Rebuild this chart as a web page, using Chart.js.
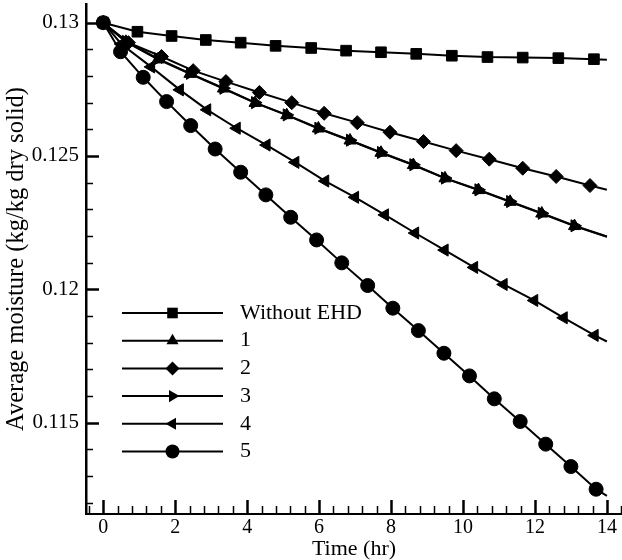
<!DOCTYPE html>
<html>
<head>
<meta charset="utf-8">
<script src="https://cdn.jsdelivr.net/npm/chart.js@4.4.0/dist/chart.umd.min.js"></script>
<style>
  html, body { margin: 0; padding: 0; background: #fff; }
</style>
</head>
<body>
<canvas id="chart" width="622" height="560"></canvas>
<script>
const FONT = "'Liberation Serif', 'Times New Roman', serif";

const seriesLabels = ['Without EHD', '1', '2', '3', '4', '5'];
const xTicks = [0, 2, 4, 6, 8, 10, 12, 14];
const yTicks = [0.115, 0.12, 0.125, 0.13];
const xMinorStep = 0.4;
const yMinorStep = 0.001;

// time (hr) / average moisture (kg/kg dry solid) for each run
const timeNoEhd = [0, 0.95, 1.90, 2.85, 3.82, 4.79, 5.78, 6.75, 7.72, 8.70, 9.69, 10.68, 11.66, 12.65, 13.64, 14];
const moistNoEhd = [0.13, 0.12966, 0.12950, 0.12935, 0.12925, 0.12913, 0.12905, 0.12895, 0.12889, 0.12883, 0.12876, 0.12871, 0.12869, 0.12867, 0.12863, 0.12861];

const time1 = [0, 0.63, 1.52, 2.41, 3.34, 4.22, 5.10, 5.98, 6.86, 7.72, 8.62, 9.50, 10.43, 11.31, 12.19, 13.10, 14];
const moist1 = [0.13, 0.12928, 0.12862, 0.12808, 0.12753, 0.12699, 0.12653, 0.12603, 0.12558, 0.12512, 0.12466, 0.12416, 0.12372, 0.12328, 0.12284, 0.12237, 0.12197];

const time2 = [0, 0.70, 1.62, 2.50, 3.41, 4.34, 5.24, 6.14, 7.06, 7.97, 8.90, 9.81, 10.73, 11.66, 12.59, 13.53, 14];
const moist2 = [0.13, 0.12925, 0.12873, 0.12820, 0.12779, 0.12738, 0.12700, 0.12660, 0.12625, 0.12589, 0.12554, 0.12520, 0.12488, 0.12454, 0.12423, 0.12389, 0.12373];

const time3 = [0, 0.63, 1.52, 2.41, 3.34, 4.22, 5.10, 5.98, 6.86, 7.72, 8.62, 9.50, 10.43, 11.31, 12.19, 13.10, 14];
const moist3 = [0.13, 0.12930, 0.12865, 0.12810, 0.12754, 0.12700, 0.12654, 0.12604, 0.12559, 0.12513, 0.12467, 0.12417, 0.12373, 0.12329, 0.12285, 0.12238, 0.12198];

const time4 = [0, 0.50, 1.33, 2.13, 2.89, 3.71, 4.54, 5.34, 6.17, 7.00, 7.83, 8.67, 9.49, 10.31, 11.13, 11.98, 12.80, 13.66, 14];
const moist4 = [0.13, 0.12920, 0.12834, 0.12748, 0.12673, 0.12604, 0.12541, 0.12476, 0.12406, 0.12345, 0.12279, 0.12211, 0.12147, 0.12082, 0.12018, 0.11958, 0.11893, 0.11827, 0.11804];

const time5 = [0, 0.48, 1.11, 1.76, 2.43, 3.11, 3.82, 4.52, 5.21, 5.93, 6.63, 7.35, 8.05, 8.76, 9.47, 10.18, 10.87, 11.59, 12.30, 13.00, 13.70, 14];
const moist5 = [0.13, 0.12891, 0.12795, 0.12704, 0.12614, 0.12526, 0.12439, 0.12354, 0.12270, 0.12185, 0.12099, 0.12014, 0.11929, 0.11845, 0.11760, 0.11675, 0.11589, 0.11504, 0.11419, 0.11335, 0.11250, 0.11225];

// one black line with symbols; the last sample (end of run) carries no symbol
function curve(label, time, moist, style, rotation, radius) {
  return {
    label,
    data: time.map((t, i) => ({ x: t, y: moist[i] })),
    showLine: true,
    borderColor: '#000',
    backgroundColor: '#000',
    borderWidth: 2,
    tension: 0,
    pointStyle: style,
    pointRotation: rotation,
    pointRadius: ctx => (ctx.dataIndex === time.length - 1 ? 0 : radius),
    pointHoverRadius: 0,
    pointBorderWidth: 1,
    markerRadius: radius
  };
}

const datasets = [
  curve(seriesLabels[0], timeNoEhd, moistNoEhd, 'rect', 0, 7.5),
  curve(seriesLabels[1], time1, moist1, 'triangle', 0, 7),
  curve(seriesLabels[2], time2, moist2, 'rectRot', 0, 7),
  curve(seriesLabels[3], time3, moist3, 'triangle', 90, 7),
  curve(seriesLabels[4], time4, moist4, 'triangle', -90, 7),
  curve(seriesLabels[5], time5, moist5, 'circle', 0, 7)
];

function drawMarker(ctx, style, rotation, r, x, y) {
  ctx.beginPath();
  if (style === 'circle') {
    ctx.arc(x, y, r, 0, Math.PI * 2);
  } else if (style === 'rect') {
    const s = r * Math.SQRT1_2;
    ctx.rect(x - s, y - s, 2 * s, 2 * s);
  } else if (style === 'rectRot') {
    ctx.moveTo(x - r, y);
    ctx.lineTo(x, y - r);
    ctx.lineTo(x + r, y);
    ctx.lineTo(x, y + r);
  } else {
    let a = rotation * Math.PI / 180;
    ctx.moveTo(x + Math.sin(a) * r, y - Math.cos(a) * r);
    for (let k = 0; k < 2; k++) {
      a += 2 * Math.PI / 3;
      ctx.lineTo(x + Math.sin(a) * r, y - Math.cos(a) * r);
    }
  }
  ctx.closePath();
  ctx.fill();
}

// legend sits inside the plot, lower left
const insideLegend = {
  id: 'insideLegend',
  afterDatasetsDraw(chart) {
    const ctx = chart.ctx;
    const x1 = 122, x2 = 223, top = 313, gap = 27.7;
    ctx.save();
    ctx.fillStyle = '#000';
    ctx.strokeStyle = '#000';
    ctx.font = '22px ' + FONT;
    ctx.textBaseline = 'middle';
    chart.data.datasets.forEach((ds, i) => {
      const y = top + i * gap;
      ctx.lineWidth = 2;
      ctx.beginPath();
      ctx.moveTo(x1, y);
      ctx.lineTo(x2, y);
      ctx.stroke();
      drawMarker(ctx, ds.pointStyle, ds.pointRotation, ds.markerRadius, (x1 + x2) / 2, y);
      ctx.fillText(ds.label, 240, y);
    });
    ctx.restore();
  }
};

// tick marks point into the plot, with minor ticks between labels
const innerTicks = {
  id: 'innerTicks',
  afterDraw(chart) {
    const { ctx, chartArea, scales } = chart;
    const xs = scales.x, ys = scales.y;
    const isMajor = (list, v) => list.some(t => Math.abs(t - v) < 1e-9);
    ctx.save();
    ctx.strokeStyle = '#000';
    for (let k = Math.ceil(xs.min / xMinorStep - 1e-6); k * xMinorStep <= xs.max + 1e-9; k++) {
      const v = k * xMinorStep;
      const major = isMajor(xTicks, Math.round(v * 10) / 10);
      const px = Math.round(xs.getPixelForValue(v)) + 0.5;
      ctx.lineWidth = major ? 2.5 : 1.5;
      ctx.beginPath();
      ctx.moveTo(px, chartArea.bottom);
      ctx.lineTo(px, chartArea.bottom - (major ? 14 : 8));
      ctx.stroke();
    }
    for (let k = Math.ceil(ys.min / yMinorStep - 1e-6); k * yMinorStep <= ys.max + 1e-12; k++) {
      const v = k * yMinorStep;
      const major = isMajor(yTicks, Math.round(v * 1e4) / 1e4);
      const py = Math.round(ys.getPixelForValue(v)) + 0.5;
      ctx.lineWidth = major ? 2.5 : 1.5;
      ctx.beginPath();
      ctx.moveTo(chartArea.left, py);
      ctx.lineTo(chartArea.left + (major ? 13 : 7), py);
      ctx.stroke();
    }
    ctx.restore();
  }
};

new Chart(document.getElementById('chart'), {
  type: 'scatter',
  data: { datasets },
  plugins: [insideLegend, innerTicks],
  options: {
    responsive: false,
    animation: false,
    layout: { autoPadding: false, padding: { top: 4, right: 0, left: 0, bottom: 0 } },
    plugins: { legend: { display: false }, tooltip: { enabled: false } },
    scales: {
      x: {
        type: 'linear',
        min: -0.48,
        max: 14.42,
        afterBuildTicks: s => { s.ticks = xTicks.map(v => ({ value: v })); },
        afterFit: s => { s.height = 46; s.paddingLeft = 0; s.paddingRight = 0; },
        grid: { display: false, drawTicks: false },
        border: { display: true, color: '#000', width: 2 },
        ticks: { color: '#000', padding: 2, font: { family: FONT, size: 20 }, callback: v => String(v) },
        title: {
          display: true,
          text: 'Time (hr)',
          color: '#000',
          padding: 0,
          font: { family: FONT, size: 22, lineHeight: 1 }
        }
      },
      y: {
        min: 0.11157,
        max: 0.1307,
        afterBuildTicks: s => { s.ticks = yTicks.map(v => ({ value: v })); },
        afterFit: s => { s.width = 86; s.paddingTop = 0; s.paddingBottom = 0; },
        grid: { display: false, drawTicks: false },
        border: { display: true, color: '#000', width: 2.5 },
        ticks: { color: '#000', padding: 7, font: { family: FONT, size: 21 }, callback: v => String(v) },
        title: {
          display: true,
          text: 'Average moisture (kg/kg dry solid)',
          color: '#000',
          padding: 2,
          font: { family: FONT, size: 24.5, lineHeight: 1.2 }
        }
      }
    }
  }
});
</script>
</body>
</html>
